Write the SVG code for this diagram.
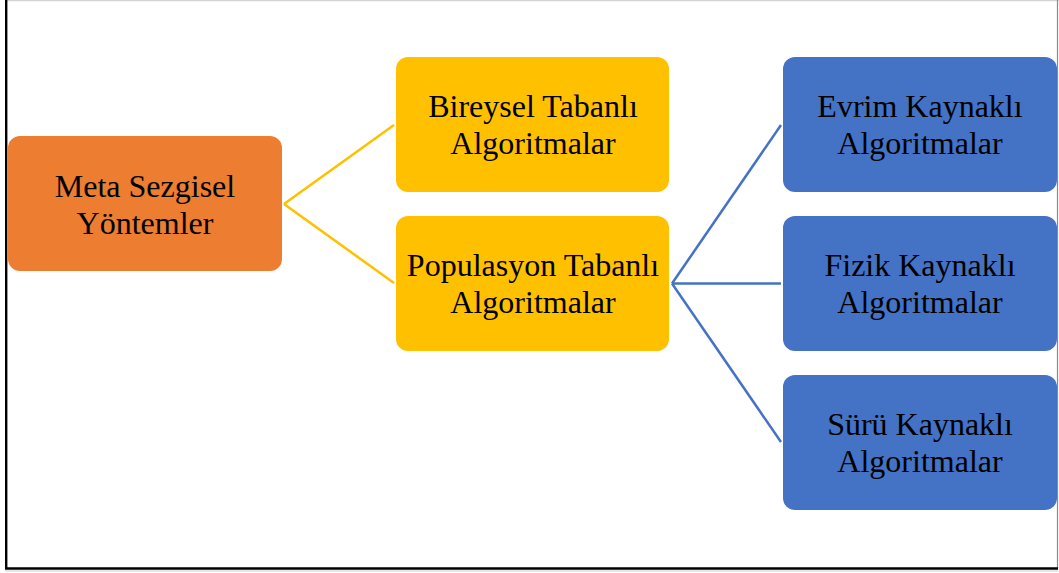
<svg xmlns="http://www.w3.org/2000/svg" width="1059" height="573" viewBox="0 0 1059 573">
  <style>
    .lbl { font-family: "Liberation Serif", "Times New Roman", serif; font-size: 32px; fill: #000000; text-anchor: middle; }
    .root { fill: #ED7D31; }
    .mid { fill: #FFC000; }
    .leaf { fill: #4472C4; }
    .link-y { stroke: #FFC000; stroke-width: 2.5; fill: none; }
    .link-b { stroke: #4472C4; stroke-width: 2.5; fill: none; }
  </style>

  <!-- page background and frame -->
  <rect x="0" y="0" width="1059" height="573" fill="#ffffff"/>
  <line x1="5" y1="0.5" x2="1059" y2="0.5" stroke="#d4d4d4" stroke-width="1.5"/>
  <line x1="1057.5" y1="0" x2="1057.5" y2="569" stroke="#8a8a8a" stroke-width="1.2"/>
  <line x1="6.2" y1="0" x2="6.2" y2="569" stroke="#000000" stroke-width="2.4"/>
  <line x1="5" y1="568.5" x2="1058" y2="568.5" stroke="#000000" stroke-width="2.4"/>
  <line x1="5" y1="571" x2="1058" y2="571" stroke="#e6e6e6" stroke-width="2"/>

  <!-- connectors -->
  <g id="connectors">
    <line class="link-y" x1="284" y1="204" x2="394" y2="125"/>
    <line class="link-y" x1="284" y1="204" x2="394" y2="283"/>
    <line class="link-b" x1="672" y1="283.5" x2="781" y2="125"/>
    <line class="link-b" x1="672" y1="283.5" x2="781" y2="283.5"/>
    <line class="link-b" x1="672" y1="283.5" x2="781" y2="442"/>
  </g>

  <g id="meta-sezgisel">
    <rect class="root" x="8" y="136" width="274" height="135" rx="12"/>
    <text class="lbl" x="145" y="197">Meta Sezgisel</text>
    <text class="lbl" x="145" y="234">Yöntemler</text>
  </g>

  <g id="bireysel">
    <rect class="mid" x="396" y="57" width="273" height="135" rx="12"/>
    <text class="lbl" x="533" y="117">Bireysel Tabanlı</text>
    <text class="lbl" x="533" y="154">Algoritmalar</text>
  </g>

  <g id="populasyon">
    <rect class="mid" x="396" y="216" width="273" height="135" rx="12"/>
    <text class="lbl" x="533" y="276">Populasyon Tabanlı</text>
    <text class="lbl" x="533" y="313">Algoritmalar</text>
  </g>

  <g id="evrim">
    <rect class="leaf" x="783" y="57" width="274" height="135" rx="12"/>
    <text class="lbl" x="920" y="117">Evrim Kaynaklı</text>
    <text class="lbl" x="920" y="154">Algoritmalar</text>
  </g>

  <g id="fizik">
    <rect class="leaf" x="783" y="216" width="274" height="135" rx="12"/>
    <text class="lbl" x="920" y="276">Fizik Kaynaklı</text>
    <text class="lbl" x="920" y="313">Algoritmalar</text>
  </g>

  <g id="suru">
    <rect class="leaf" x="783" y="375" width="274" height="135" rx="12"/>
    <text class="lbl" x="920" y="435">Sürü Kaynaklı</text>
    <text class="lbl" x="920" y="472">Algoritmalar</text>
  </g>
</svg>
